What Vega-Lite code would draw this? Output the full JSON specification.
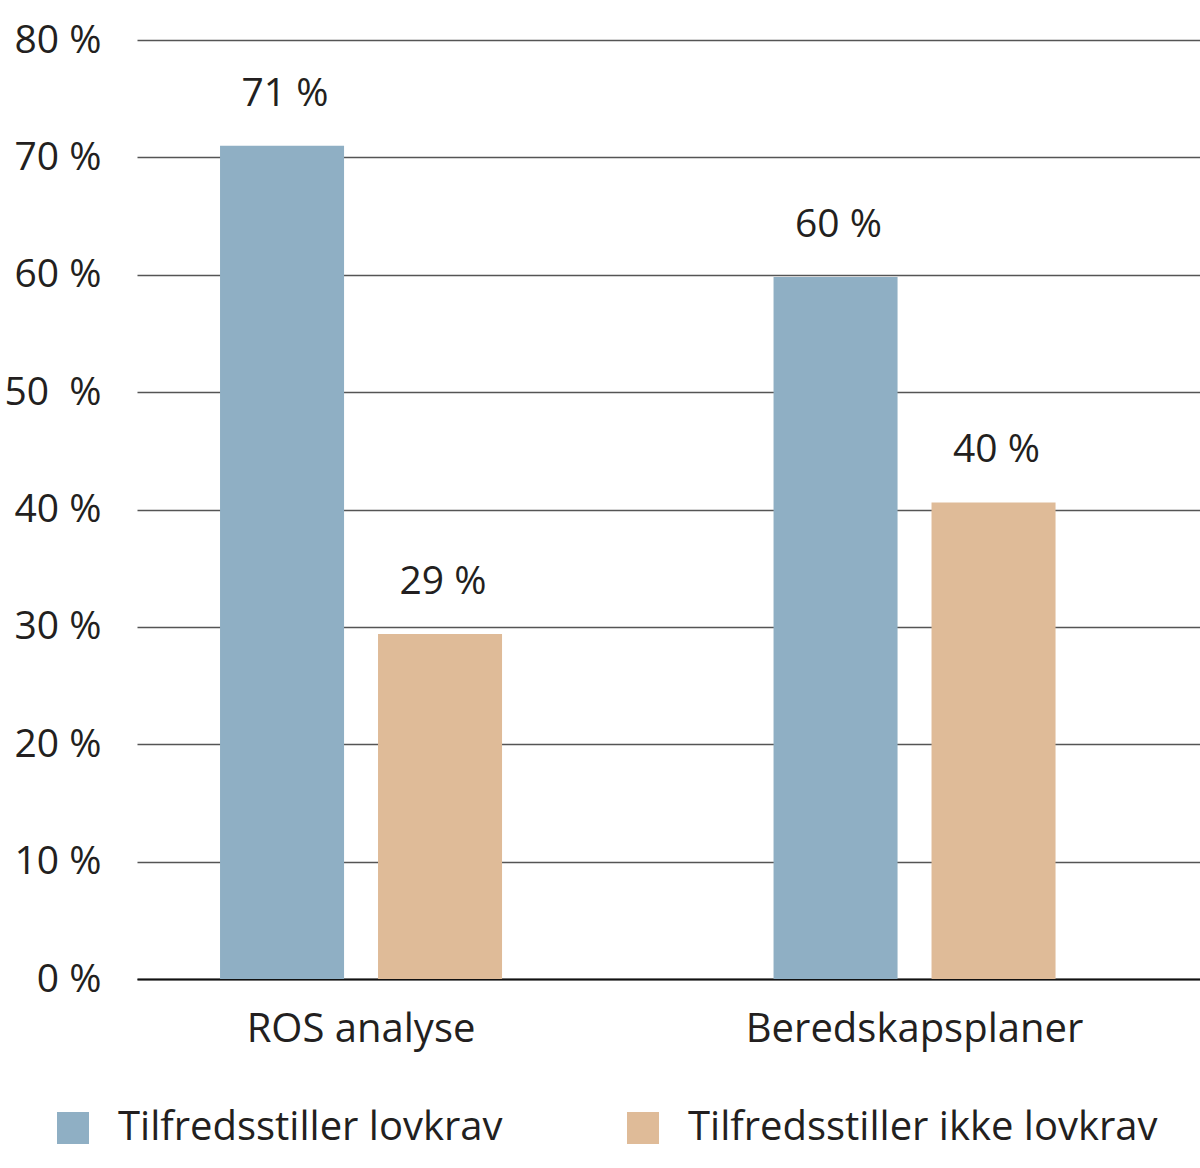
{
  "$schema": "https://vega.github.io/schema/vega-lite/v6.json",
  "width": 1063,
  "height": 939,
  "autosize": {"type": "none"},
  "padding": {"left": 137, "top": 40, "right": 0, "bottom": 189},
  "background": "white",
  "config": {
    "view": {"stroke": null},
    "font": "Open Sans",
    "text": {"font": "Open Sans"}
  },
  "data": {
    "values": [
      {"kategori": "ROS analyse", "serie": "Tilfredsstiller lovkrav", "andel": 71.0, "etikett": "71 %"},
      {"kategori": "ROS analyse", "serie": "Tilfredsstiller ikke lovkrav", "andel": 29.4, "etikett": "29 %"},
      {"kategori": "Beredskapsplaner", "serie": "Tilfredsstiller lovkrav", "andel": 59.8, "etikett": "60 %"},
      {"kategori": "Beredskapsplaner", "serie": "Tilfredsstiller ikke lovkrav", "andel": 40.6, "etikett": "40 %"}
    ]
  },
  "encoding": {
    "x": {
      "field": "kategori",
      "type": "nominal",
      "sort": ["ROS analyse", "Beredskapsplaner"],
      "scale": {"paddingInner": 0.4905, "paddingOuter": 0.2055, "align": 0.365},
      "axis": {
        "title": null,
        "labelAngle": 0,
        "labelFontSize": 40,
        "labelColor": "#231f20",
        "labelPadding": 30,
        "ticks": false,
        "domain": true,
        "domainColor": "#111111",
        "domainWidth": 2,
        "labelLimit": 600
      }
    },
    "xOffset": {
      "field": "serie",
      "type": "nominal",
      "sort": ["Tilfredsstiller lovkrav", "Tilfredsstiller ikke lovkrav"],
      "scale": {"paddingInner": 0.215, "paddingOuter": 0}
    },
    "y": {
      "field": "andel",
      "type": "quantitative",
      "scale": {"domain": [0, 80], "nice": false},
      "axis": {
        "title": null,
        "values": [0, 10, 20, 30, 40, 50, 60, 70, 80],
        "labelExpr": "datum.value == 50 ? '50\u00a0 %' : datum.value + ' %'",
        "labelFontSize": 39,
        "labelColor": "#231f20",
        "labelPadding": 36,
        "ticks": false,
        "domain": false,
        "grid": true,
        "gridColor": "#555555",
        "gridWidth": 1.5
      }
    }
  },
  "layer": [
    {
      "mark": {"type": "bar"},
      "encoding": {
        "color": {
          "field": "serie",
          "type": "nominal",
          "sort": ["Tilfredsstiller lovkrav", "Tilfredsstiller ikke lovkrav"],
          "scale": {
            "domain": ["Tilfredsstiller lovkrav", "Tilfredsstiller ikke lovkrav"],
            "range": ["#8fafc4", "#dfbb98"]
          },
          "legend": {
            "title": null,
            "orient": "none",
            "legendX": -84,
            "legendY": 1068,
            "direction": "horizontal",
            "padding": 0,
            "symbolType": "square",
            "symbolSize": 1024,
            "symbolStrokeWidth": 0,
            "symbolOpacity": 1,
            "labelFontSize": 40,
            "labelColor": "#231f20",
            "labelOffset": 25,
            "labelLimit": 800,
            "columnPadding": 120
          }
        }
      }
    },
    {
      "mark": {"type": "text", "fontSize": 39, "color": "#231f20", "baseline": "alphabetic", "dy": -40, "dx": 3},
      "encoding": {
        "text": {"field": "etikett"}
      }
    }
  ]
}
